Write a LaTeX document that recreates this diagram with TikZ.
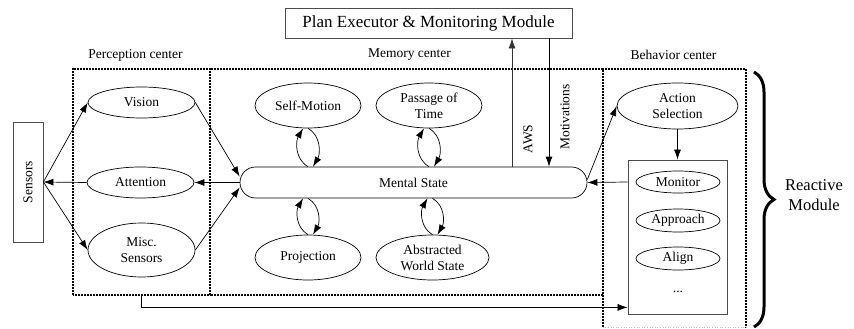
\documentclass[tikz,border=0pt]{standalone}
\usepackage{fontspec}
\setmainfont{Liberation Serif}
\usetikzlibrary{positioning, shapes.geometric, arrows.meta, decorations.pathreplacing}

\begin{document}
\begin{tikzpicture}[x=1pt, y=-1pt, font={\fontsize{13.5}{16}\selectfont},
  ell/.style={draw, ellipse, inner sep=0pt, align=center, line width=0.7pt},
  box/.style={draw=black!70, line width=0.8pt, inner sep=0pt, align=center},
  area/.style={inner sep=0pt},
  frame/.style={line width=1.8pt, dash pattern=on 2pt off 1pt},
  arr/.style={-{Latex[length=10pt, width=7pt]}, line width=0.7pt}
]
  \useasboundingbox (0,0) rectangle (854,329);

  \node[box, minimum width=287pt, minimum height=30pt, font={\fontsize{17}{20}\selectfont}] (plan) at (428.5,23) {Plan Executor \& Monitoring Module};

  % centers
  \node[area, minimum width=137pt, minimum height=226pt] (perc) at (141.5,182) {};
  \node[area, minimum width=393pt, minimum height=226pt] (mem) at (406.5,182) {};
  \node[area, minimum width=143pt, minimum height=258pt] (beh) at (674.5,198) {};
  \draw[frame] (perc.south west) rectangle (perc.north east);
  \draw[frame] (mem.south west) rectangle (mem.north east);
  \draw[frame] (beh.south west) -- (beh.north west) -- (beh.north east) -- (beh.south east);
  \draw[gray!50, dotted, line width=0.6pt] (beh.south west) -- (beh.south east);

  \node (perclbl) at (135.5,55) {Perception center};
  \node (memlbl) at (409.5,55) {Memory center};
  \node (behlbl) at (673.5,55) {Behavior center};

  \node[box, minimum width=30pt, minimum height=120pt] (sens) at (28,182) {\rotatebox{90}{Sensors}};

  \node[ell, minimum width=107pt, minimum height=31pt] (vis) at (141.5,102.5) {Vision};
  \node[ell, minimum width=107pt, minimum height=31pt] (att) at (140.5,182.5) {Attention};
  \node[ell, minimum width=107pt, minimum height=54pt] (misc) at (141.5,250) {Misc.\\Sensors};

  \node[draw, rounded corners=15.5pt, minimum width=347pt, minimum height=31pt, line width=0.7pt] (ms) at (413.5,182.5) {Mental State};
  \node[ell, minimum width=106pt, minimum height=45pt] (selfm) at (308,105.5) {Self-Motion};
  \node[ell, minimum width=106pt, minimum height=45pt] (pot) at (429,105.5) {Passage of\\Time};
  \node[ell, minimum width=106pt, minimum height=45pt] (proj) at (308,257.5) {Projection};
  \node[ell, minimum width=113pt, minimum height=45pt] (absw) at (432.5,257.5) {Abstracted\\World State};

  \node[ell, minimum width=121pt, minimum height=46pt] (act) at (677.5,106) {Action\\Selection};
  \node[box, minimum width=99pt, minimum height=154pt] (react) at (677.5,237) {};
  \node[ell, minimum width=84pt, minimum height=22pt] (mon) at (678,182) {Monitor};
  \node[ell, minimum width=84pt, minimum height=23pt] (appr) at (678,220.5) {Approach};
  \node[ell, minimum width=84pt, minimum height=23pt] (align) at (678,258.5) {Align};
  \node (dots) at (678,292) {...};

  % perception
  \draw[arr] (sens.east) -- (vis.west);
  \draw[arr] (sens.east) -- (misc.west);
  \draw[arr] (att.west) -- (sens.east);
  \draw[arr] (vis.east) -- ([yshift=6pt]ms.west);
  \draw[arr] (misc.east) -- ([yshift=-5pt]ms.west);
  \draw[arr] (ms.west) -- (att.east);

  % memory loops
  \foreach \n in {selfm, pot} {
    \draw[arr] (\n.south |- ms.north) to[out=150, in=-120] ([xshift=-5pt]\n.south);
    \draw[arr] (\n.south) to[out=-30, in=60] ([xshift=5pt]\n.south |- ms.north);
  }
  \foreach \n in {proj, absw} {
    \draw[arr] (\n.north) to[out=150, in=-120] ([xshift=-5pt]\n.north |- ms.south);
    \draw[arr] (\n.north |- ms.south) to[out=-30, in=60] ([xshift=5pt]\n.north);
  }

  % plan executor
  \coordinate (awstop) at ([xshift=83.5pt]plan.south);
  \coordinate (mottop) at ([xshift=120.5pt]plan.south);
  \draw[arr, black!80] (awstop |- ms.north) -- (awstop);
  \draw[arr] (mottop) -- (mottop |- ms.north);
  \node[rotate=90] (awslbl) at (528,139) {AWS};
  \node[rotate=90] (motlbl) at (565,117) {Motivations};

  % behavior
  \draw[arr] ([yshift=3pt]ms.east) -- (act.west);
  \draw[arr] (act.south) -- (react.north);
  \draw[arr] (react.west |- mon) -- (ms.east);
  \draw[arr] (perc.south) |- ([yshift=7pt]react.south west);

  \draw[decorate, decoration={brace, amplitude=20pt}, line width=3pt] (754,72) -- (754,327);
  \node[align=center, font={\fontsize{16.5}{20}\selectfont}] (rmod) at (814,195) {Reactive\\Module};
\end{tikzpicture}
\end{document}
